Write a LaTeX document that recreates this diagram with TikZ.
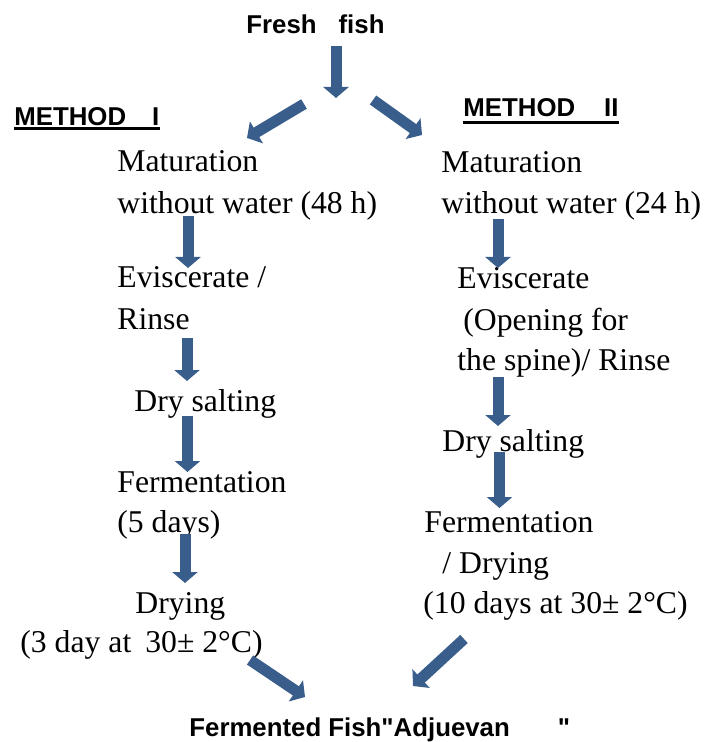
\documentclass[tikz,border=0pt]{standalone}
\usepackage{fontspec}
\setmainfont{Liberation Serif}
\newfontfamily\headfont{Liberation Sans}
\usepackage{tikz}
\usetikzlibrary{arrows.meta}
\definecolor{flowblue}{RGB}{58,94,140}

\begin{document}
\begin{tikzpicture}[
    x=0.5pt, y=-0.5pt,
    stage/.style={anchor=base west, inner sep=0pt, font=\fontsize{15.85pt}{19pt}\selectfont},
    heading/.style={anchor=base west, inner sep=0pt, font=\headfont\bfseries\fontsize{12.9pt}{15pt}\selectfont},
    flow/.style={line width=5.5pt, flowblue, -{Triangle[width=12.5pt, length=5.5pt]}},
    headrule/.style={line width=1.35pt}
]
\useasboundingbox (0,0) rectangle (704,742);

% Titles
\node[heading] (fresh) at (246,34) {Fresh\hspace{11pt}fish};
\node[heading] (methA) at (14,126) {METHOD\hspace{13pt}I};
\node[heading] (methB) at (463,117) {METHOD\hspace{14.5pt}II};
\node[heading] (product) at (189,736) {Fermented Fish"Adjuevan\hspace{24pt}"};
\coordinate (split) at (336,98);

% Underlines of the method titles
\draw[headrule] ([shift={(0,2.7)}]methA.base west) -- ([shift={(0,2.7)}]methA.base east);
\draw[headrule] ([shift={(0,5.5)}]methB.base west) -- ([shift={(0,5.5)}]methB.base east);

% Method I
\node[stage] (lmat) at (117,172) {Maturation};
\node[stage] (lwater) at (117,214) {without water (48 h)};
\node[stage] (levis) at (117,288) {Eviscerate /};
\node[stage] (lrinse) at (117,329) {Rinse};
\node[stage] (lsalt) at (134,411) {Dry salting};
\node[stage] (lferm) at (117,492) {Fermentation};
\node[stage] (ldays) at (117,532) {(5 days)};
\node[stage] (ldry) at (135,613) {Drying};
\node[stage] (ltemp) at (20,652) {(3 day at\hspace{7pt}30± 2°C)};

% Method II
\node[stage] (rmat) at (441,173) {Maturation};
\node[stage] (rwater) at (441,214) {without water (24 h)};
\node[stage] (revis) at (457,289) {Eviscerate};
\node[stage] (ropen) at (463,330) {(Opening for};
\node[stage] (rspine) at (457,370) {the spine)/ Rinse};
\node[stage] (rsalt) at (442,451) {Dry salting};
\node[stage] (rferm) at (424,532) {Fermentation};
\node[stage] (rdry) at (442,573) {/ Drying};
\node[stage] (rtemp) at (423,613) {(10 days at 30± 2°C)};

% Split of the fresh fish
\draw[flow] ([shift={(90,12)}]fresh.base west) -- (split);
\draw[flow] ([shift={(-32,6)}]split) -- ([shift={(130,-34)}]lmat.base west);
\draw[flow] ([shift={(37,2)}]split) -- ([shift={(-19,-38)}]rmat.base west);

% Method I arrows
\draw[flow] ([shift={(71,2)}]lwater.base west) -- ([shift={(71,-20)}]levis.base west);
\draw[flow] ([shift={(70,9)}]lrinse.base west) -- ([shift={(53,-30)}]lsalt.base west);
\draw[flow] ([shift={(53.5,5)}]lsalt.base west) -- ([shift={(70.5,-20)}]lferm.base west);
\draw[flow] ([shift={(68,2)}]ldays.base west) -- ([shift={(50,-30)}]ldry.base west);

% Method II arrows
\draw[flow] ([shift={(57,5)}]rwater.base west) -- ([shift={(41,-21)}]revis.base west);
\draw[flow] ([shift={(41,7)}]rspine.base west) -- ([shift={(56,-25)}]rsalt.base west);
\draw[flow] ([shift={(57.5,1)}]rsalt.base west) -- ([shift={(75.5,-24)}]rferm.base west);

% Both methods to the product
\draw[flow] ([shift={(230,8)}]ltemp.base west) -- ([shift={(116,-39)}]product.base west);
\draw[flow] ([shift={(41,26)}]rtemp.base west) -- ([shift={(224,-50)}]product.base west);

\end{tikzpicture}
\end{document}
